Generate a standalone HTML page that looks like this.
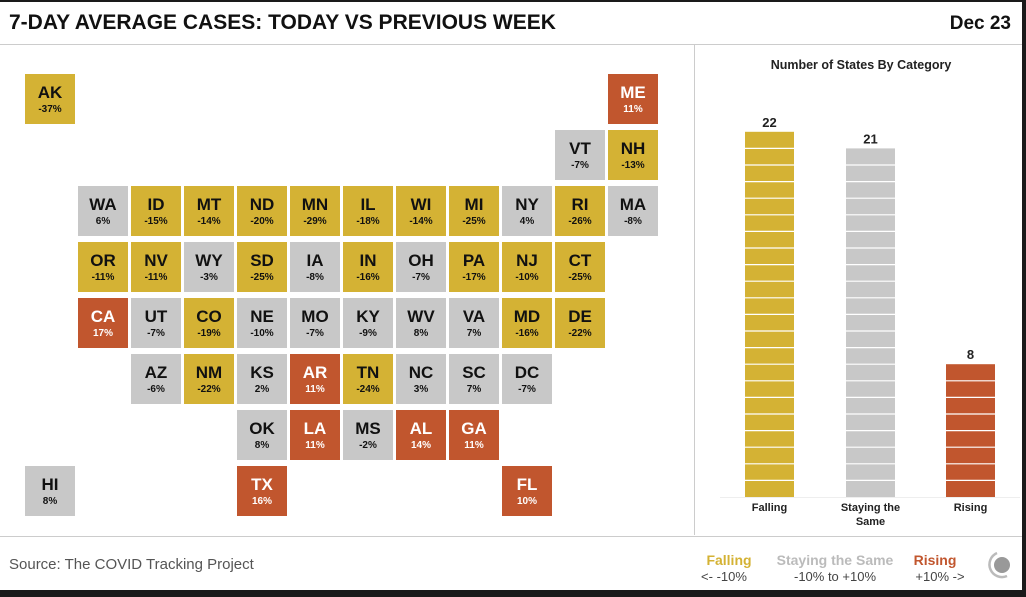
<!DOCTYPE html>
<html><head><meta charset="utf-8"><style>
body{margin:0;width:1026px;height:597px;overflow:hidden;background:#1a1a1a;font-family:"Liberation Sans",sans-serif}
#card{position:absolute;left:0;top:2px;width:1022px;height:588px;background:#fff}
</style></head><body>
<div id="card">
<svg width="1022" height="588" viewBox="0 2 1022 588" id="svg" style="position:absolute;left:0;top:0">
<text x="9" y="29" font-size="21" font-weight="bold" fill="#111">7-DAY AVERAGE CASES: TODAY VS PREVIOUS WEEK</text>
<text x="1011" y="29" font-size="19" font-weight="bold" fill="#111" text-anchor="end">Dec 23</text>
<line x1="0" y1="44.5" x2="1022" y2="44.5" stroke="#ccc"/>
<line x1="694.5" y1="44" x2="694.5" y2="535" stroke="#ccc"/>
<line x1="0" y1="536.5" x2="1022" y2="536.5" stroke="#ccc"/>
<g id="map"></g>
<text x="861" y="69" font-size="12.5" font-weight="bold" fill="#222" text-anchor="middle">Number of States By Category</text>
<line x1="720" y1="497.5" x2="1020" y2="497.5" stroke="#eee"/>
<g id="bars"></g>
<text x="9" y="569" font-size="15" fill="#555">Source: The COVID Tracking Project</text>
<g>
<text x="729" y="565" font-size="14" font-weight="bold" fill="#d4b234" text-anchor="middle">Falling</text>
<text x="724" y="581" font-size="13" fill="#444" text-anchor="middle">&lt;-  -10%</text>
<text x="835" y="565" font-size="14" font-weight="bold" fill="#bbb" text-anchor="middle">Staying the Same</text>
<text x="835" y="581" font-size="13" fill="#444" text-anchor="middle">-10% to +10%</text>
<text x="935" y="565" font-size="14" font-weight="bold" fill="#c1562e" text-anchor="middle">Rising</text>
<text x="940" y="581" font-size="13" fill="#444" text-anchor="middle">+10%  -&gt;</text>
</g>
<g>
<path d="M997 553 A12 12 0 1 0 1007 576" fill="none" stroke="#bbb" stroke-width="2.5"/>
<circle cx="1002" cy="565" r="8" fill="#999"/>
</g>
</svg>
</div>
<script>
const states=["AK","ME","VT","NH","WA","ID","MT","ND","MN","IL","WI","MI","NY","RI","MA","OR","NV","WY","SD","IA","IN","OH","PA","NJ","CT","CA","UT","CO","NE","MO","KY","WV","VA","MD","DE","AZ","NM","KS","AR","TN","NC","SC","DC","OK","LA","MS","AL","GA","HI","TX","FL"];
const changes=[-37,11,-7,-13,6,-15,-14,-20,-29,-18,-14,-25,4,-26,-8,-11,-11,-3,-25,-8,-16,-7,-17,-10,-25,17,-7,-19,-10,-7,-9,8,7,-16,-22,-6,-22,2,11,-24,3,7,-7,8,11,-2,14,11,8,16,10];
// F = falling, S = staying the same, R = rising (as classified in source)
const stateCats=["F","R","S","F","S","F","F","F","F","F","F","F","S","F","S","F","F","S","F","S","F","S","F","F","F","R","S","F","S","S","S","S","S","F","F","S","F","S","R","F","S","S","S","S","R","S","R","R","S","R","R"];
const cols=[0,11,10,11,1,2,3,4,5,6,7,8,9,10,11,1,2,3,4,5,6,7,8,9,10,1,2,3,4,5,6,7,8,9,10,2,3,4,5,6,7,8,9,4,5,6,7,8,0,4,9];
const rows=[0,0,1,1,2,2,2,2,2,2,2,2,2,2,2,3,3,3,3,3,3,3,3,3,3,4,4,4,4,4,4,4,4,4,4,5,5,5,5,5,5,5,5,6,6,6,6,6,7,7,7];
const categories=["Falling","Staying the Same","Rising"];
const NS="http://www.w3.org/2000/svg";
const COL={Falling:"#d4b234","Staying the Same":"#c8c8c8",Rising:"#c1562e"};
const CODE={F:"Falling",S:"Staying the Same",R:"Rising"};
function mk(t,a,p){const e=document.createElementNS(NS,t);for(const k in a)e.setAttribute(k,a[k]);p.appendChild(e);return e;}
const map=document.getElementById('map');
const colX=c=>25+c*53, rowY=r=>74+r*56;
const counts=[0,0,0];
states.forEach((s,i)=>{
 const c=CODE[stateCats[i]];counts[categories.indexOf(c)]++;
 const x=colX(cols[i]),y=rowY(rows[i]);
 const g=mk('g',{},map);
 
 
 mk('rect',{x:x,y:y,width:50,height:50,fill:COL[c]},g);
 const fc=c==="Rising"?"#fff":"#111";
 const t1=mk('text',{x:x+25,y:y+24,'font-size':17,'font-weight':'bold',fill:fc,'text-anchor':'middle'},g);t1.textContent=s;
 const t2=mk('text',{x:x+25,y:y+38,'font-size':10,'font-weight':'bold',fill:fc,'text-anchor':'middle'},g);t2.textContent=changes[i]+"%";
});
const bars=document.getElementById('bars');
const base=497,unit=16.6;
const barX=[745,846,946];
categories.forEach((c,i)=>{
 const n=counts[i],x=barX[i],top=base-n*unit;
 const g=mk('g',{},bars);
 
 
 mk('rect',{x:x,y:top,width:49,height:n*unit,fill:COL[c]},g);
 for(let k=1;k<n;k++)mk('line',{x1:x,x2:x+49,y1:top+k*unit,y2:top+k*unit,stroke:'#fff','stroke-width':1.2},g);
 const v=mk('text',{x:x+24.5,y:top-5,'font-size':13,'font-weight':'bold',fill:'#222','text-anchor':'middle'},g);v.textContent=n;
 const words=c==="Staying the Same"?["Staying the","Same"]:[c];
 words.forEach((w,j)=>{const l=mk('text',{x:x+24.5,y:511+j*14,'font-size':11,'font-weight':'bold',fill:'#222','text-anchor':'middle'},g);l.textContent=w;});
});
</script>
</body></html>
